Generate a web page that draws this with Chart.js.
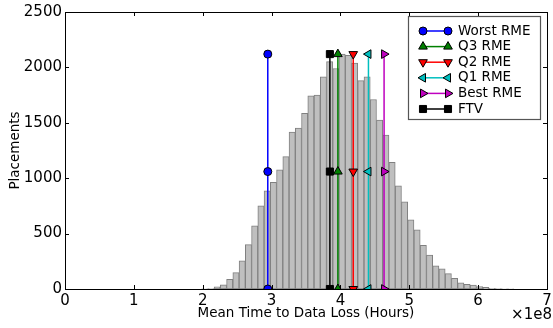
<!DOCTYPE html>
<html>
<head>
<meta charset="utf-8">
<script src="https://cdn.jsdelivr.net/npm/chart.js@4"></script>
<style>
  html, body { margin: 0; padding: 0; background: #fff; }
  #wrap { width: 553px; height: 328px; }
</style>
</head>
<body>
<div id="wrap"><canvas id="chart"></canvas></div>
<script>
// ---------------- DATA ----------------
// histogram bins, x in units of 1e8 hours
const binStart = 1.984;
const binWidth = 0.0907;
const counts = [
    1, 4, 20, 38, 88, 148, 255, 400, 570, 750,
    886, 962, 1075, 1195, 1417, 1452, 1585, 1744, 1750, 1915,
    2052, 1990, 2120, 2110, 2040, 1880, 1915, 1710, 1525, 1390,
    1144, 931, 787, 624, 533, 395, 306, 208, 181, 139,
    96, 56, 42, 35, 21, 14, 6, 4, 2, 1
];

// vertical marker lines
const lineNames = ["Worst RME", "Q3 RME", "Q2 RME", "Q1 RME", "Best RME", "FTV"];
const lineX = [2.945, 3.963, 4.186, 4.407, 4.634, 3.847];
const markerY = [0, 1060, 2120];
const lineColors = ["#0000ff", "#008000", "#ff0000", "#00bfbf", "#bf00bf", "#000000"];
const lineMarkers = ["circle", "triangle", "triangle", "triangle", "triangle", "rect"];
const markerRotation = [0, 0, 180, -90, 90, 0];
const markerRadius = [4, 5, 5, 5, 5, 5];

const xTicks = [0, 1, 2, 3, 4, 5, 6, 7];
const yTicks = [0, 500, 1000, 1500, 2000, 2500];

const FONT = "'DejaVu Sans', sans-serif";

// ---------------- DATASETS ----------------
const histData = counts.map((c, i) => ({ x: binStart + (i + 0.5) * binWidth, y: c }));

const datasets = [];
lineNames.forEach((name, i) => {
    datasets.push({
        type: "line",
        label: name,
        data: markerY.map(y => ({ x: lineX[i], y: y })),
        borderColor: lineColors[i],
        backgroundColor: lineColors[i],
        borderWidth: 1.5,
        pointStyle: lineMarkers[i],
        pointRotation: markerRotation[i],
        pointRadius: markerRadius[i],
        pointBorderColor: "#000",
        pointBorderWidth: 1,
        pointBackgroundColor: lineColors[i],
        clip: 0,
        order: 1
    });
});
datasets.push({
    type: "bar",
    label: "hist",
    data: histData,
    backgroundColor: "#bfbfbf",
    borderColor: "#808080",
    borderWidth: 1,
    borderSkipped: false,
    barPercentage: 1,
    categoryPercentage: 1,
    order: 10
});

// ---------------- FRAME, TICKS, LEGEND ----------------
const decorations = {
    id: "decorations",
    afterDraw(chart) {
        const ctx = chart.ctx;
        const a = chart.chartArea;
        const xs = chart.scales.x, ys = chart.scales.y;
        ctx.save();
        ctx.strokeStyle = "#000";
        ctx.lineWidth = 1;
        // inward ticks on all four sides
        const tl = 4;
        ctx.beginPath();
        xTicks.forEach(v => {
            const px = Math.round(xs.getPixelForValue(v)) + 0.5;
            ctx.moveTo(px, a.bottom); ctx.lineTo(px, a.bottom - tl);
            ctx.moveTo(px, a.top); ctx.lineTo(px, a.top + tl);
        });
        yTicks.forEach(v => {
            const py = Math.round(ys.getPixelForValue(v)) + 0.5;
            ctx.moveTo(a.left, py); ctx.lineTo(a.left + tl, py);
            ctx.moveTo(a.right, py); ctx.lineTo(a.right - tl, py);
        });
        ctx.stroke();
        ctx.strokeRect(Math.round(a.left) + 0.5, Math.round(a.top) + 0.5,
            Math.round(a.right - a.left), Math.round(a.bottom - a.top));

        // offset text
        ctx.fillStyle = "#000";
        ctx.font = "15px " + FONT;
        ctx.textAlign = "right";
        ctx.textBaseline = "middle";
        ctx.fillText("\u00d71e8", 552, 315);

        // legend
        const lx = 408.5, ly = 16.5, lw = 132, lh = 103;
        ctx.fillStyle = "#fff";
        ctx.fillRect(lx, ly, lw, lh);
        ctx.strokeStyle = "#555";
        ctx.lineWidth = 1.2;
        ctx.strokeRect(lx, ly, lw, lh);
        ctx.font = "13.5px " + FONT;
        ctx.textAlign = "left";
        lineNames.forEach((name, i) => {
            const y = 31 + i * 15.6;
            const x1 = 423, x2 = 448;
            ctx.strokeStyle = lineColors[i];
            ctx.lineWidth = 1.5;
            ctx.beginPath();
            ctx.moveTo(x1, y); ctx.lineTo(x2, y);
            ctx.stroke();
            [x1, x2].forEach(x => {
                ctx.fillStyle = lineColors[i];
                ctx.strokeStyle = "#000";
                ctx.lineWidth = 1;
                Chart.helpers.drawPoint(ctx, {
                    pointStyle: lineMarkers[i],
                    radius: markerRadius[i],
                    rotation: markerRotation[i],
                    borderWidth: 1
                }, x, y);
            });
            ctx.fillStyle = "#000";
            ctx.fillText(name, 458, y);
        });
        ctx.restore();
    }
};

// ---------------- CHART ----------------
new Chart(document.getElementById("chart"), {
    data: { datasets: datasets },
    options: {
        responsive: true,
        maintainAspectRatio: false,
        animation: false,
        layout: { padding: { top: 12, right: 4, left: 0, bottom: 0 } },
        plugins: { legend: { display: false }, tooltip: { enabled: false } },
        scales: {
            x: {
                type: "linear",
                offset: false,
                min: 0, max: 7,
                afterFit: s => { s.height = 39; s.paddingLeft = 0; s.paddingRight = 0; },
                afterBuildTicks: s => { s.ticks = xTicks.map(v => ({ value: v })); },
                grid: { display: false, drawTicks: false, offset: false },
                border: { display: false },
                ticks: { color: "#000", font: { family: FONT, size: 15 }, padding: 3, maxRotation: 0,
                         callback: v => String(v) },
                title: {
                    display: true, text: "Mean Time to Data Loss (Hours)", color: "#000",
                    font: { family: FONT, size: 13.5 }, padding: { top: 0, bottom: 6 }
                }
            },
            y: {
                type: "linear",
                min: 0, max: 2500,
                afterFit: s => { s.width = 65; s.paddingTop = 0; s.paddingBottom = 0; },
                afterBuildTicks: s => { s.ticks = yTicks.map(v => ({ value: v })); },
                grid: { display: false, drawTicks: false },
                border: { display: false },
                ticks: { color: "#000", font: { family: FONT, size: 15 }, padding: 3,
                         callback: v => String(v) },
                title: {
                    display: true, text: "Placements", color: "#000",
                    font: { family: FONT, size: 13.5 }, padding: { top: 7, bottom: 0 }
                }
            }
        }
    },
    plugins: [decorations]
});
</script>
</body>
</html>
